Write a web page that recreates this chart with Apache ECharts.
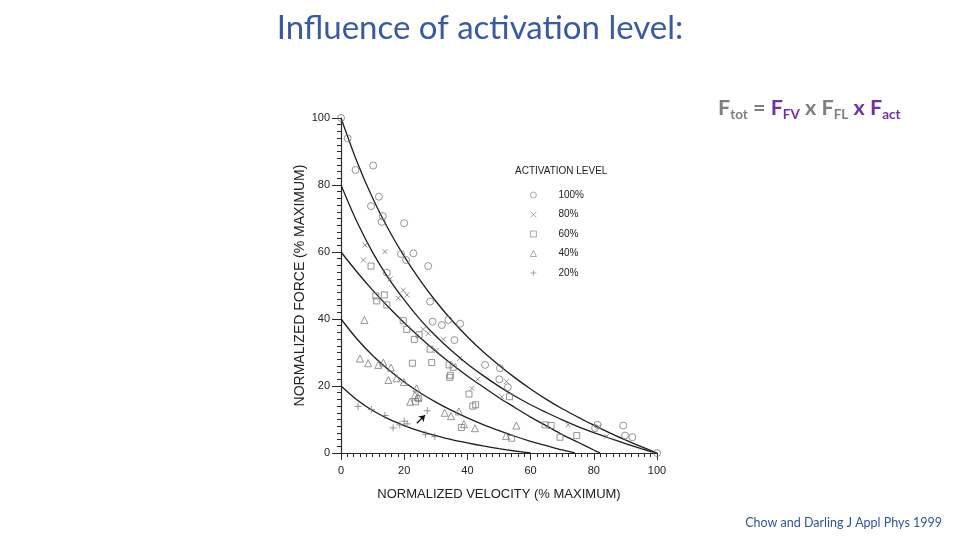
<!DOCTYPE html>
<html>
<head>
<meta charset="utf-8">
<title>Influence of activation level</title>
<script src="https://cdn.jsdelivr.net/npm/echarts@6.0.0/dist/echarts.min.js"></script>
<style>
  html, body { margin: 0; padding: 0; background: #fff; }
  #chart { width: 960px; height: 540px; }
</style>
</head>
<body>
<div id="chart"></div>
<script>
// legend names (activation level)
var levels = ['100%', '80%', '60%', '40%', '20%'];

var pts100 = [[0,100],[2.1,93.9],[4.6,84.5],[10.2,85.8],[12.0,76.5],[9.5,73.7],[13.2,70.7],[12.9,69.0],[20.0,68.6],[19.0,59.4],[22.9,59.6],[20.6,57.6],[27.6,55.8],[14.5,53.8],[28.2,45.2],[29.0,39.2],[31.9,38.2],[34.0,39.7],[37.7,38.6],[35.9,33.7],[45.6,26.3],[50.3,25.3],[50.1,22.0],[52.8,19.6],[81.2,8.4],[80.4,7.4],[89.3,8.2],[89.9,5.2],[92.2,4.7],[100,0]];
var pts80 = [[7.6,62.1],[13.9,60.1],[7.1,57.6],[15.6,52.0],[18.1,46.2],[19.7,48.6],[20.9,47.2],[26.0,36.9],[27.6,35.7],[32.4,34.0],[30.2,30.6],[37.5,28.2],[43.3,22.0],[41.4,19.3],[52.4,21.3],[50.9,16.8],[71.9,8.4],[81.5,7.8],[84.1,5.0]];
var pts60 = [[9.5,55.8],[11.0,46.9],[13.7,47.2],[11.3,45.4],[14.5,44.2],[19.7,39.5],[20.8,36.9],[23.2,33.9],[24.7,35.3],[28.2,31.0],[28.7,27.0],[22.6,26.8],[34.2,26.3],[35.5,25.6],[34.4,22.6],[34.6,23.2],[40.5,17.6],[41.7,14.0],[42.6,14.4],[23.6,15.3],[24.6,16.2],[38.1,7.6],[53.3,16.8],[64.6,8.4],[66.5,8.2],[69.3,4.7],[74.6,5.2],[54.0,4.4]];
var pts40 = [[7.4,39.7],[6.0,28.2],[8.6,26.8],[11.8,26.3],[13.4,27.0],[15.8,25.5],[15.0,21.8],[17.6,22.3],[19.9,21.2],[23.9,19.3],[23.4,17.3],[24.3,16.7],[21.9,15.3],[32.8,12.0],[34.8,11.0],[37.3,12.4],[38.9,8.6],[42.4,7.4],[55.5,8.2],[52.2,5.1]];
var pts20 = [[5.4,13.9],[9.6,13.0],[13.9,11.2],[16.5,7.5],[18.6,8.4],[20.0,9.5],[20.9,8.7],[27.3,12.6],[26.7,5.6],[29.7,4.9]];

// fitted curves
var curve100 = [[0,100],[5,87.1],[10,76.1],[15,66.8],[20,58.7],[25,51.6],[30,45.3],[35,39.7],[40,34.7],[45,30.2],[50,26.2],[55,22.5],[60,19.1],[65,16.0],[70,13.2],[75,10.7],[80,8.3],[85,6.0],[90,3.9],[95,1.9],[100,0]];
var curve80 = [[0,80],[5,69.1],[10,59.9],[15,52.2],[20,45.7],[25,39.9],[30,34.9],[35,30.5],[40,26.6],[45,23.1],[50,19.9],[55,17.0],[60,14.4],[65,12.1],[70,9.9],[75,7.9],[80,6.1],[85,4.4],[90,2.8],[95,1.3],[99.5,0]];
var curve60 = [[0,60],[5,54.1],[10,48.6],[15,43.6],[20,38.9],[25,34.5],[30,30.4],[35,26.6],[40,23.0],[45,19.7],[50,16.5],[55,13.6],[60,10.7],[65,8.1],[70,5.5],[75,3.2],[80,0.9],[82,0]];
var curve40 = [[0,40],[5,34.1],[10,29.1],[15,24.9],[20,21.2],[25,18.0],[30,15.2],[35,12.7],[40,10.5],[45,8.5],[50,6.7],[55,5.0],[60,3.5],[65,2.2],[70,0.9],[74,0]];
var curve20 = [[0,20],[5,15.9],[10,12.7],[15,10.2],[20,8.2],[25,6.5],[30,5.2],[35,4.0],[40,3.0],[45,2.1],[50,1.3],[55,0.6],[60,0]];

// arrow pointing at one 20% point
var arrowFrom = [24.0, 8.9];
var arrowTo = [26.6, 11.3];

var chart = echarts.init(document.getElementById('chart'), null, { renderer: 'canvas' });

var ptColor = '#7a7a7a';
var hollow = { color: 'transparent', borderColor: ptColor, borderWidth: 1 };
var axisFont = 'Liberation Sans, Arial, sans-serif';

function curve(name, data) {
  return {
    name: name,
    type: 'line',
    data: data,
    smooth: 0.3,
    showSymbol: false,
    silent: true,
    z: 1,
    lineStyle: { color: '#1e1e1e', width: 1.3 }
  };
}

function scatter(name, data, symbol, size) {
  return {
    name: name,
    type: 'scatter',
    data: data,
    symbol: symbol,
    symbolSize: size,
    z: 3,
    itemStyle: hollow
  };
}

// subscripts pushed down with top padding
var subPad = [11, 0, 0, 0];

var option = {
  backgroundColor: '#ffffff',
  animation: false,
  title: [
    {
      text: 'Influence of activation level:',
      left: 'center',
      top: 12,
      padding: 0,
      textStyle: { fontFamily: 'Lato', fontWeight: 'normal', fontSize: 33, color: '#3a5a9f' }
    },
    {
      text: '{g|F}{gs|tot}{g| = }{p|F}{ps|FV}{g| x F}{gs|FL}{p| x F}{ps|act}',
      left: 718,
      top: 97,
      padding: 0,
      textStyle: {
        rich: {
          g: { fontFamily: 'Lato', fontWeight: 'bold', fontSize: 21.5, color: '#7f7f7f', verticalAlign: 'top' },
          gs: { fontFamily: 'Lato', fontWeight: 'bold', fontSize: 13.5, color: '#7f7f7f', verticalAlign: 'top', padding: subPad },
          p: { fontFamily: 'Lato', fontWeight: 'bold', fontSize: 21.5, color: '#7030a0', verticalAlign: 'top' },
          ps: { fontFamily: 'Lato', fontWeight: 'bold', fontSize: 13.5, color: '#7030a0', verticalAlign: 'top', padding: subPad }
        }
      }
    },
    {
      text: 'ACTIVATION LEVEL',
      left: 515,
      top: 166,
      padding: 0,
      textStyle: { fontFamily: axisFont, fontWeight: 'normal', fontSize: 10, color: '#222' }
    },
    {
      text: 'Chow and Darling J Appl Phys 1999',
      right: 18,
      top: 516,
      padding: 0,
      textStyle: { fontFamily: 'Lato', fontWeight: 'normal', fontSize: 12.5, color: '#2f5597' }
    }
  ],
  legend: {
    data: levels,
    orient: 'vertical',
    left: 530,
    top: 189,
    padding: 0,
    itemWidth: 6,
    itemHeight: 6,
    itemGap: 7.5,
    selectedMode: false,
    itemStyle: { borderWidth: 0.8 },
    textStyle: { fontFamily: axisFont, fontSize: 10, lineHeight: 12, color: '#222', padding: [0, 0, 0, 17] }
  },
  grid: { left: 341, right: 303, top: 118, bottom: 87, containLabel: false },
  xAxis: {
    type: 'value',
    min: 0,
    max: 100,
    interval: 20,
    name: 'NORMALIZED VELOCITY (% MAXIMUM)',
    nameLocation: 'middle',
    nameGap: 35,
    nameTextStyle: { fontFamily: axisFont, fontSize: 13, color: '#222' },
    axisLine: { lineStyle: { color: '#2a2a2a', width: 1.2 } },
    axisTick: { length: 7, lineStyle: { color: '#2a2a2a' } },
    minorTick: { show: true, splitNumber: 10, length: 4, lineStyle: { color: '#2a2a2a' } },
    axisLabel: { fontFamily: axisFont, fontSize: 11, color: '#222', margin: 12 },
    splitLine: { show: false }
  },
  yAxis: {
    type: 'value',
    min: 0,
    max: 100,
    interval: 20,
    name: 'NORMALIZED FORCE (% MAXIMUM)',
    nameLocation: 'middle',
    nameGap: 34,
    nameTextStyle: { fontFamily: axisFont, fontSize: 14, color: '#222' },
    axisLine: { show: true, lineStyle: { color: '#2a2a2a', width: 1.2 } },
    axisTick: { show: true, length: 9, lineStyle: { color: '#2a2a2a' } },
    minorTick: { show: true, splitNumber: 10, length: 4, lineStyle: { color: '#2a2a2a' } },
    axisLabel: { fontFamily: axisFont, fontSize: 11, color: '#222', margin: 11 },
    splitLine: { show: false }
  },
  series: [
    curve('fit100', curve100),
    curve('fit80', curve80),
    curve('fit60', curve60),
    curve('fit40', curve40),
    curve('fit20', curve20),
    scatter(levels[0], pts100, 'circle', 7),
    scatter(levels[1], pts80, 'path://M0,0L10,10M10,0L0,10', 5),
    scatter(levels[2], pts60, 'rect', 6),
    scatter(levels[3], pts40, 'triangle', 7),
    Object.assign(scatter(levels[4], pts20, 'path://M5,0L5,10M0,5L10,5', 7), {
      markLine: {
        silent: true,
        symbol: ['none', 'arrow'],
        symbolSize: 6,
        label: { show: false },
        lineStyle: { color: '#111', width: 1.3, type: 'solid' },
        data: [[{ coord: arrowFrom }, { coord: arrowTo }]]
      }
    })
  ]
};

chart.setOption(option);
</script>
</body>
</html>
